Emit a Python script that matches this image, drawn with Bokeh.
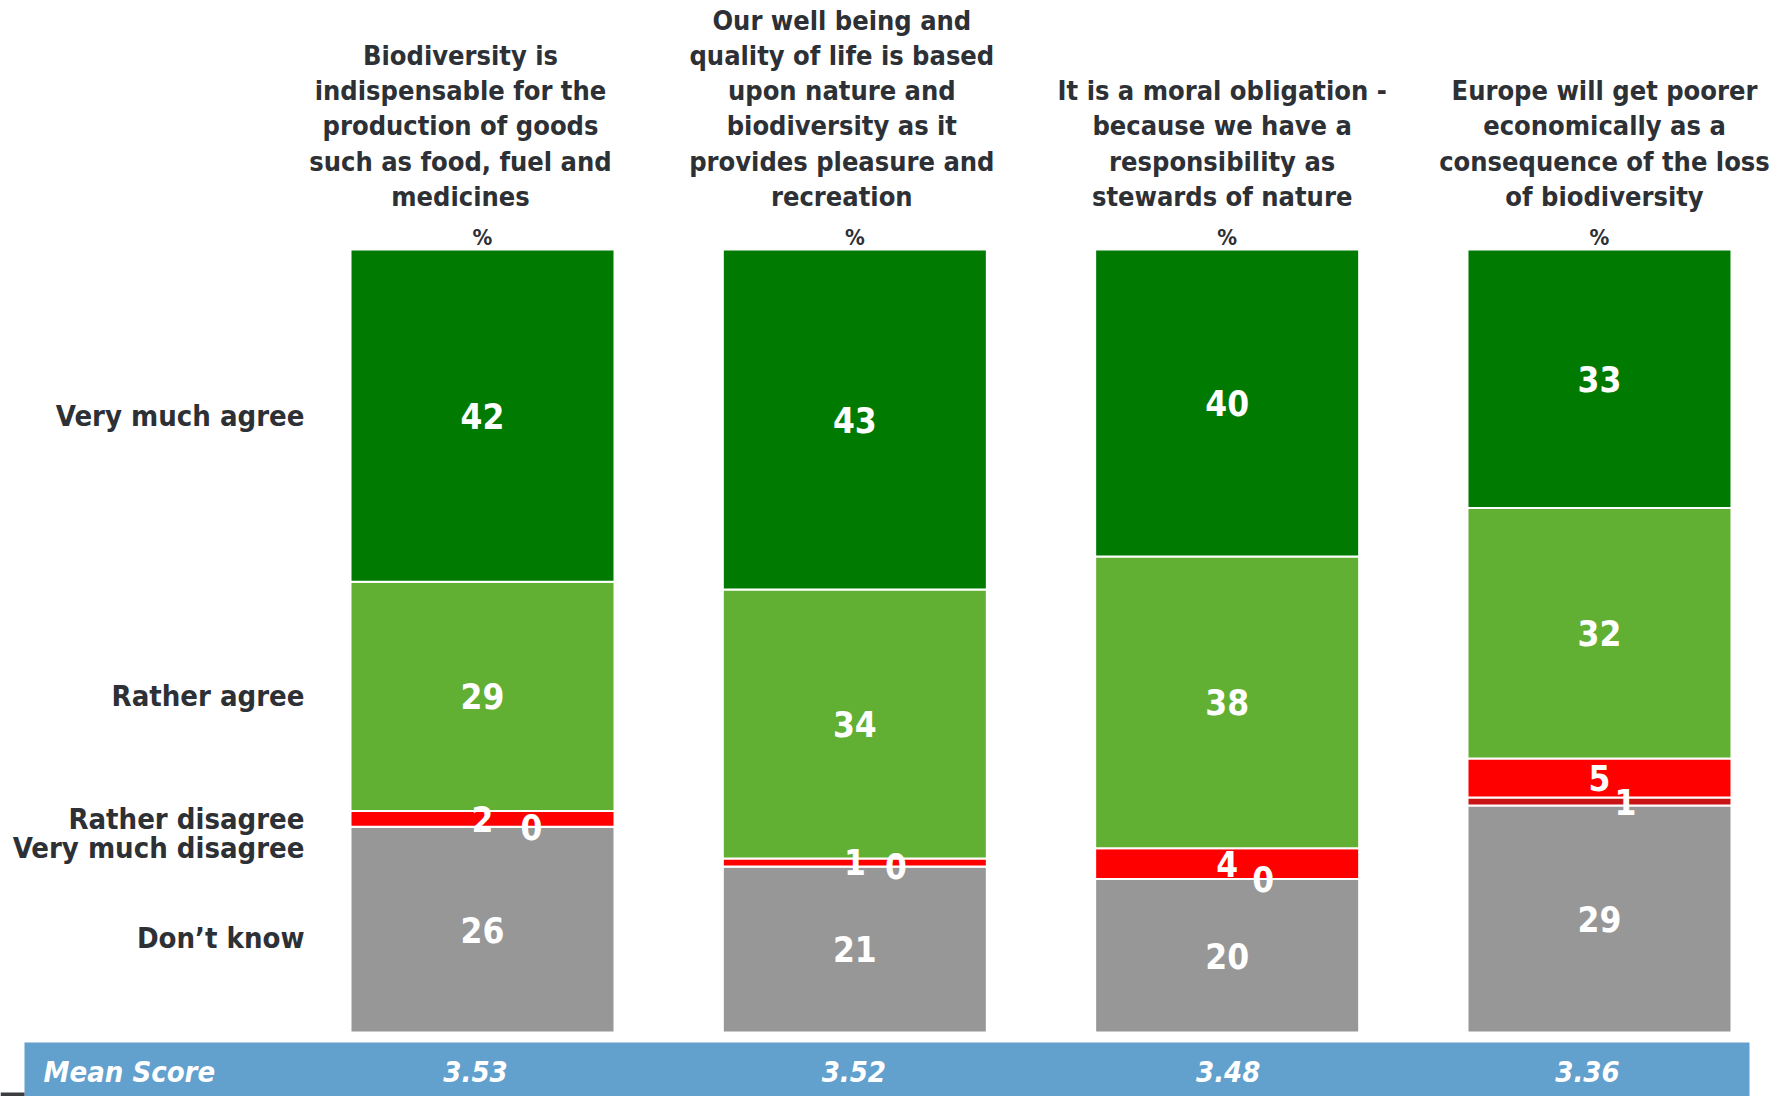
from bokeh.plotting import figure
from bokeh.models import ColumnDataSource, Range1d
from bokeh.core.properties import value
from bokeh.embed import file_html
from bokeh.resources import INLINE

# ---------------- data ----------------
statements = [
    "Biodiversity is\nindispensable for the\nproduction of goods\nsuch as food, fuel and\nmedicines",
    "Our well being and\nquality of life is based\nupon nature and\nbiodiversity as it\nprovides pleasure and\nrecreation",
    "It is a moral obligation -\nbecause we have a\nresponsibility as\nstewards of nature",
    "Europe will get poorer\neconomically as a\nconsequence of the loss\nof biodiversity",
]
categories = ["Very much agree", "Rather agree", "Rather disagree", "Very much disagree", "Don\u2019t know"]
very_much_agree = [42, 43, 40, 33]
rather_agree = [29, 34, 38, 32]
rather_disagree = [2, 1, 4, 5]
very_much_disagree = [0, 0, 0, 1]
dont_know = [26, 21, 20, 29]
mean_scores = [3.53, 3.52, 3.48, 3.36]
unit_label = "%"
mean_label = "Mean Score"

# ---------------- layout / style ----------------
W, H = 1786, 1096
PX0 = 482.0          # screen x of first bar centre
PXU = 372.33         # screen px per category step
BAR_BOTTOM = 1032.0  # screen y of 0 %
PYU = 7.83           # screen px per percent
BAR_W = 264 / PXU

FONT = "DejaVu Sans Condensed"
TXT = "#2D3035"
seg_colors = ["#007A00", "#61B033", "#FF0000", "#C81414", "#979797"]


def dx(px):
    return (px - PX0) / PXU


def dy(py):
    return (BAR_BOTTOM - py) / PYU


p = figure(width=W, height=H, output_backend="svg", toolbar_location=None,
           x_range=Range1d(dx(0), dx(W)), y_range=Range1d(dy(H), dy(0)),
           x_axis_location=None, y_axis_location=None, min_border=0)
p.grid.visible = False
p.outline_line_color = None
p.background_fill_color = "white"
p.border_fill_color = "white"

n = len(statements)
xs = list(range(n))
series = [very_much_agree, rather_agree, rather_disagree, very_much_disagree, dont_know]

# normalise each bar to 100 % and stack from bottom (Don't know) to top
totals = [sum(s[i] for s in series) for i in range(n)]
scaled = [[s[i] / totals[i] * 100 for i in range(n)] for s in series]
stack_order = [4, 3, 2, 1, 0]
bottoms = {}
tops = {}
cum = [0.0] * n
for k in stack_order:
    b = list(cum)
    t = [cum[i] + scaled[k][i] for i in range(n)]
    bottoms[k], tops[k] = b, t
    cum = t

for k in stack_order:
    src = ColumnDataSource(dict(
        left=[x - BAR_W / 2 for x in xs], right=[x + BAR_W / 2 for x in xs],
        bottom=bottoms[k], top=tops[k]))
    p.quad(left="left", right="right", bottom="bottom", top="top", source=src,
           fill_color=seg_colors[k], line_color="white", line_width=2)

# value labels
vmd_dx = [49, 41, 36, 26]  # screen px shift for the "very much disagree" labels
for k in range(5):
    lx = []
    ly = []
    lt = []
    for i in xs:
        off = vmd_dx[i] / PXU if k == 3 else 0
        lx.append(i + off)
        ly.append((bottoms[k][i] + tops[k][i]) / 2)
        lt.append(str(series[k][i]))
    p.text(x=lx, y=ly, text=lt, text_color="white", text_font=value(FONT),
           text_font_style="bold", text_font_size="35px",
           text_align="center", text_baseline="middle")

# category labels (aligned with first bar's segments)
cat_shift = [0, 0, 0, 21, 8]
cx = []
cy = []
for k in range(5):
    cx.append(dx(304))
    cy.append((bottoms[k][0] + tops[k][0]) / 2 - cat_shift[k] / PYU)
p.text(x=cx, y=cy, text=categories, text_color=TXT, text_font=value(FONT),
       text_font_style="bold", text_font_size="29px",
       text_align="right", text_baseline="middle")

# statement titles
title_dx = [-22, -13, -5, 5]
LINE_H = 35.3
LAST_LINE_Y = 196
tx, ty, tt = [], [], []
for i, s in enumerate(statements):
    lines = s.split("\n")
    m = len(lines)
    for j, line in enumerate(lines):
        tx.append(i + title_dx[i] / PXU)
        ty.append(dy(LAST_LINE_Y - (m - 1 - j) * LINE_H))
        tt.append(line)
p.text(x=tx, y=ty, text=tt, text_color=TXT, text_font=value(FONT),
       text_font_style="bold", text_font_size="27px",
       text_align="center", text_baseline="middle")

# % markers
p.text(x=xs, y=[dy(237)] * n, text=[unit_label] * n, text_color=TXT,
       text_font=value(FONT), text_font_style="bold", text_font_size="22px",
       text_align="center", text_baseline="middle")

# mean score band
p.quad(left=[dx(24)], right=[dx(1749)], top=[dy(1042)], bottom=[dy(1110)],
       fill_color="#62A0CE", line_color=None)
p.quad(left=[dx(0)], right=[dx(24)], top=[dy(1092)], bottom=[dy(1110)],
       fill_color="#3A3C40", line_color=None)
p.text(x=[dx(43)], y=[dy(1071)], text=[mean_label], text_color="white",
       text_font=value(FONT), text_font_style="bold italic", text_font_size="29px",
       text_align="left", text_baseline="middle")
mean_dx = [-7, -1, 1, -12]
p.text(x=[i + mean_dx[i] / PXU for i in xs], y=[dy(1071)] * n,
       text=[f"{m:.2f}" for m in mean_scores], text_color="white",
       text_font=value(FONT), text_font_style="bold italic", text_font_size="29px",
       text_align="center", text_baseline="middle")

open("out.html", "w").write(file_html(p, INLINE))
